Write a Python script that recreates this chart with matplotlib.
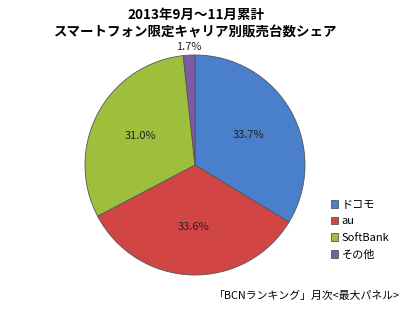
import matplotlib.pyplot as plt
import numpy as np

plt.rcParams['font.family'] = ['Noto Sans CJK JP', 'DejaVu Sans']

carriers = ['ドコモ', 'au', 'SoftBank', 'その他']
shares = [33.7, 33.6, 31.0, 1.7]
colors = ['#4a7fcb', '#d24545', '#9dbf3c', '#7d5aa6']

fig = plt.figure(figsize=(4.13, 3.10), dpi=100)
ax = fig.add_axes([0.2058, 0.1129, 0.5327, 0.7097])

wedges, texts = ax.pie(shares, colors=colors, startangle=90, counterclock=False,
                       wedgeprops=dict(edgecolor='#555555', linewidth=0.6))
ax.set_xlim(-1, 1)
ax.set_ylim(-1, 1)
ax.set_aspect('equal')

for w, v in zip(wedges, shares):
    ang = np.deg2rad((w.theta1 + w.theta2) / 2)
    r = 0.56 if v > 5 else 1.07
    ax.text(r * np.cos(ang), r * np.sin(ang), '{:.1f}%'.format(v),
            ha='center', va='center', fontsize=8, color='#222222')

fig.text(0.475, 0.953, '2013年9月～11月累計', ha='center', va='center',
         fontsize=9.7, fontweight='bold')
fig.text(0.475, 0.895, 'スマートフォン限定キャリア別販売台数シェア', ha='center',
         va='center', fontsize=9.7, fontweight='bold')

leg = fig.legend(wedges, carriers, loc='upper left', bbox_to_anchor=(0.79, 0.37),
                 frameon=False, fontsize=8, handlelength=0.7, handleheight=0.7,
                 handletextpad=0.3, labelspacing=0.6, borderaxespad=0)

fig.text(0.968, 0.045, '「BCNランキング」月次<最大パネル>', ha='right', va='center',
         fontsize=7.8)

fig.savefig('out.png', dpi=100)
